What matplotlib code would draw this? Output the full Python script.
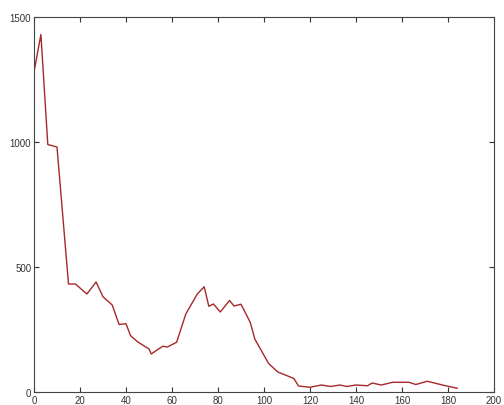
import numpy as np
import matplotlib
matplotlib.use("Agg")
import matplotlib.pyplot as plt

# values
x = [0, 3, 6, 10, 15, 18, 23, 27, 30, 34, 37, 40, 42, 45, 50, 51, 53, 56, 58, 62,
     66, 71, 74, 76, 78, 81, 85, 87, 90, 94, 96, 102, 106, 113, 115, 120, 125, 129,
     133, 136, 140, 145, 147, 151, 156, 163, 166, 171, 178, 184]
y = [1280, 1430, 990, 980, 432, 432, 392, 440, 381, 348, 270, 273, 225, 201, 172, 152,
     165, 183, 180, 199, 312, 392, 421, 343, 352, 320, 366, 344, 351, 279, 212, 114,
     80, 54, 24, 19, 28, 22, 28, 22, 28, 25, 36, 28, 39, 39, 30, 43, 27, 15]
xticks = np.arange(0, 201, 20)
yticks = [0, 500, 1000, 1500]

plt.rcParams['font.family'] = ['Liberation Sans', 'DejaVu Sans']

fig = plt.figure(figsize=(5.04, 4.06), dpi=100)
ax = fig.add_axes([34 / 504, 13 / 406, 460 / 504, 375 / 406])
ax.plot(x, y, color='#a82828', lw=1.0)
ax.set_xlim(0, 200)
ax.set_ylim(0, 1500)
ax.set_xticks(xticks)
ax.set_yticks(yticks)
ax.tick_params(direction='in', length=3.5, width=0.8, top=True, right=True,
               labelsize=7, pad=2, colors='#333333')
for s in ax.spines.values():
    s.set_color('#444444')
    s.set_linewidth(0.8)

fig.savefig('out.png', dpi=100)
